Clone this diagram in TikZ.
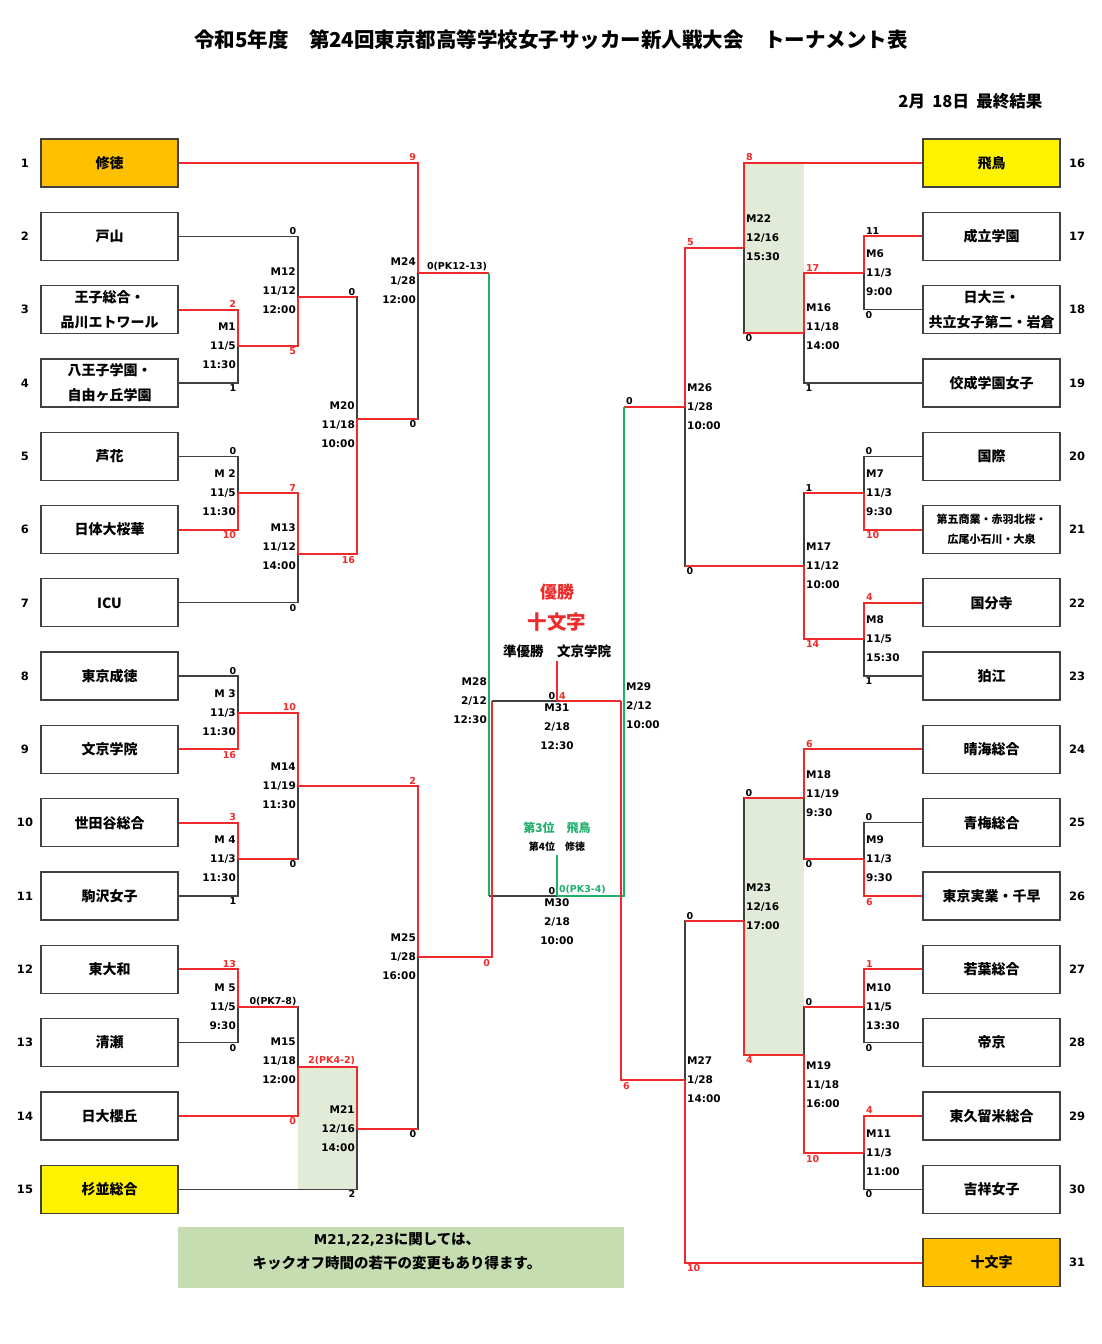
\documentclass[tikz,border=0pt]{standalone}
\usepackage{fontspec}
\setmainfont{Noto Sans CJK JP}
\newfontfamily\lat{DejaVu Sans}
\definecolor{lnred}{HTML}{EE2A2A}
\definecolor{lngrn}{HTML}{1FAE6C}
\definecolor{lngray}{HTML}{404040}
\definecolor{gold}{HTML}{FFC000}
\definecolor{sagebg}{HTML}{E2EAD8}
\definecolor{notebg}{HTML}{C6DDB2}
\newcommand\smallname{\fontsize{11}{19}\selectfont}
\tikzset{
  team/.style={draw=lngray,line width=1.3pt,minimum width=137pt,minimum height=48pt,align=center,inner sep=1pt,font=\bfseries\fontsize{14}{24.5}\selectfont},
  seed/.style={font=\lat\bfseries\fontsize{11.5}{12}\selectfont},
  mlab/.style={font=\lat\bfseries\fontsize{10.5}{19}\selectfont,inner sep=2pt},
  mlabl/.style={mlab,left,align=right},
  mlabr/.style={mlab,right,align=left},
  scr/.style={font=\lat\bfseries\fontsize{9.5}{10}\selectfont,inner sep=1pt,pos=.5},
  rs/.style={scr,text=lnred},
  win/.style={draw=lnred,line width=2pt},
  lose/.style={draw=lngray,line width=1.3pt},
  grn/.style={draw=lngrn,line width=2pt},
}
\begin{document}
\begin{tikzpicture}[x=1pt,y=-1pt]
\useasboundingbox (0,0) rectangle (1102,1344);
\node[font=\bfseries\fontsize{20.5}{24}\selectfont] (title) at (551,40) {令和5年度　第24回東京都高等学校女子サッカー新人戦大会　トーナメント表};
\node[font=\bfseries\fontsize{16.5}{20}\selectfont,anchor=east] (date) at (1046,101) {2月\hspace{.45em}18日\hspace{.45em}最終結果};

% teams
\foreach \i/\nm/\fc in {1/修徳/gold,2/戸山/white,3/{王子総合・\\品川エトワール}/white,4/{八王子学園・\\自由ヶ丘学園}/white,5/芦花/white,6/日体大桜華/white,7/ICU/white,8/東京成徳/white,9/文京学院/white,10/世田谷総合/white,11/駒沢女子/white,12/東大和/white,13/清瀬/white,14/日大櫻丘/white,15/杉並総合/yellow}{
  \node[team,fill=\fc] (t\i) at (109.5,{163+73.3*(\i-1)}) {\nm};
  \node[seed] (s\i) at (25,{163+73.3*(\i-1)}) {\i};}
\foreach \i/\nm/\fc in {16/飛鳥/yellow,17/成立学園/white,18/{日大三・\\共立女子第二・岩倉}/white,19/佼成学園女子/white,20/国際/white,21/{\smallname 第五商業・赤羽北桜・\\[-5pt]\smallname 広尾小石川・大泉}/white,22/国分寺/white,23/狛江/white,24/晴海総合/white,25/青梅総合/white,26/東京実業・千早/white,27/若葉総合/white,28/帝京/white,29/東久留米総合/white,30/吉祥女子/white,31/十文字/gold}{
  \node[team,fill=\fc] (t\i) at (991.5,{163+73.3*(\i-16)}) {\nm};
  \node[seed] (s\i) at (1077,{163+73.3*(\i-16)}) {\i};}

\coordinate (m1) at (238,346); \coordinate (m2) at (238,493); \coordinate (m3) at (238,713); \coordinate (m4) at (238,859); \coordinate (m5) at (238,1007);
\coordinate (m12) at (298,297); \coordinate (m13) at (298,554); \coordinate (m14) at (298,786); \coordinate (m15) at (298,1067);
\coordinate (m20) at (357,419); \coordinate (m21) at (357,1129); \coordinate (m24) at (418,273); \coordinate (m25) at (418,957);
\coordinate (m28g) at (489,896); \coordinate (m28r) at (492,701); \coordinate (f31) at (557,701); \coordinate (f30) at (557,896);
\coordinate (m29g) at (624,896); \coordinate (m29r) at (621,701); \coordinate (m26) at (685,407); \coordinate (m27) at (685,1080);
\coordinate (m22) at (744,248); \coordinate (m23) at (744,921);
\coordinate (m16) at (804,333); \coordinate (m17) at (804,566); \coordinate (m18) at (804,798); \coordinate (m19) at (804,1055);
\coordinate (m6) at (864,273); \coordinate (m7) at (864,493); \coordinate (m8) at (864,639); \coordinate (m9) at (864,859); \coordinate (m10) at (864,1007); \coordinate (m11) at (864,1153);

\fill[sagebg] (m15) rectangle (t15.east -| m21);
\fill[sagebg] (t16.west -| m22) rectangle (m16);
\fill[sagebg] (m23 |- m18) rectangle (m19);

% left side
\draw[lose] (t2.east) -| node[scr,above left]{0} (m12);
\draw[lose] (t4.east) -| node[scr,below left]{1} (m1);
\draw[lose] (m12) -| node[scr,above left]{0} (m20); \draw[win] (m12) -- (m12 -| m20);
\draw[lose] (t5.east) -| node[scr,above left]{0} (m2);
\draw[lose] (t7.east) -| node[scr,below left]{0} (m13);
\draw[lose] (m20) -| node[scr,below left]{0} (m24); \draw[win] (m20) -- (m20 -| m24);
\draw[lose] (t8.east) -| node[scr,above left]{0} (m3);
\draw[lose] (t11.east) -| node[scr,below left]{1} (m4);
\draw[lose] (m4) -| node[scr,below left]{0} (m14); \draw[win] (m4) -- (m4 -| m14);
\draw[lose] (t13.east) -| node[scr,below left]{0} (m5);
\draw[lose] (m5) -| node[scr,above left]{0(PK7-8)} (m15); \draw[win] (m5) -- (m5 -| m15);
\draw[lose] (t15.east) -| node[scr,below left]{2} (m21);
\draw[lose] (m21) -| node[scr,below left]{0} (m25); \draw[win] (m21) -- (m21 -| m25);
\draw[win] (t1.east) -| node[rs,above left]{9} (m24);
\draw[win] (t3.east) -| node[rs,above left]{2} (m1);
\draw[win] (m1) -| node[rs,below left]{5} (m12);
\draw[win] (t6.east) -| node[rs,below left]{10} (m2);
\draw[win] (m2) -| node[rs,above left]{7} (m13);
\draw[win] (m13) -| node[rs,below left]{16} (m20);
\draw[win] (t9.east) -| node[rs,below left]{16} (m3);
\draw[win] (t10.east) -| node[rs,above left]{3} (m4);
\draw[win] (m3) -| node[rs,above left]{10} (m14);
\draw[win] (m14) -| node[rs,above left]{2} (m25);
\draw[win] (t12.east) -| node[rs,above left]{13} (m5);
\draw[win] (t14.east) -| node[rs,below left]{0} (m15);
\draw[win] (m15) -| node[rs,above left]{2(PK4-2)} (m21);

% right side
\draw[lose] (t18.west) -| node[scr,below right]{0} (m6);
\draw[lose] (t19.west) -| node[scr,below right]{1} (m16);
\draw[lose] (m16) -| node[scr,below right]{0} (m22); \draw[win] (m16) -- (m16 -| m22);
\draw[lose] (t20.west) -| node[scr,above right]{0} (m7);
\draw[lose] (t23.west) -| node[scr,below right]{1} (m8);
\draw[lose] (m7) -| node[scr,above right]{1} (m17); \draw[win] (m7) -- (m7 -| m17);
\draw[lose] (m17) -| node[scr,below right]{0} (m26); \draw[win] (m17) -- (m17 -| m26);
\draw[lose] (t25.west) -| node[scr,above right]{0} (m9);
\draw[lose] (m9) -| node[scr,below right]{0} (m18); \draw[win] (m9) -- (m9 -| m18);
\draw[lose] (m18) -| node[scr,above right]{0} (m23); \draw[win] (m18) -- (m18 -| m23);
\draw[lose] (t28.west) -| node[scr,below right]{0} (m10);
\draw[lose] (t30.west) -| node[scr,below right]{0} (m11);
\draw[lose] (m10) -| node[scr,above right]{0} (m19); \draw[win] (m10) -- (m10 -| m19);
\draw[lose] (m23) -| node[scr,above right]{0} (m27); \draw[win] (m23) -- (m23 -| m27);
\draw[win] (t16.west) -| node[rs,above right]{8} (m22);
\draw[win] (t17.west) -| node[scr,above right]{11} (m6);
\draw[win] (m6) -| node[rs,above right]{17} (m16);
\draw[win] (m22) -| node[rs,above right]{5} (m26);
\draw[win] (t21.west) -| node[rs,below right]{10} (m7);
\draw[win] (t22.west) -| node[rs,above right]{4} (m8);
\draw[win] (m8) -| node[rs,below right]{14} (m17);
\draw[win] (t24.west) -| node[rs,above right]{6} (m18);
\draw[win] (t26.west) -| node[rs,below right]{6} (m9);
\draw[win] (t27.west) -| node[rs,above right]{1} (m10);
\draw[win] (t29.west) -| node[rs,above right]{4} (m11);
\draw[win] (m11) -| node[rs,below right]{10} (m19);
\draw[win] (m19) -| node[rs,below right]{4} (m23);
\draw[win] (t31.west) -| node[rs,below right]{10} (m27);

% semifinals and finals
\node[text=lnred,font=\bfseries\fontsize{17}{20}\selectfont] (yusho) at (557,592) {優勝};
\node[text=lnred,font=\bfseries\fontsize{19.5}{22}\selectfont] (champ) at (557,622) {十文字};
\node[font=\bfseries\fontsize{13.5}{16}\selectfont] (runner) at (557,651) {準優勝\hspace{1em}文京学院};
\node[text=lngrn,font=\bfseries\fontsize{12}{14}\selectfont] (third) at (557,828) {第3位\hspace{1em}飛鳥};
\node[font=\bfseries\fontsize{10}{12}\selectfont] (fourth) at (557,847) {第4位\hspace{1em}修徳};
\draw[win] (m24) -- node[scr,pos=1,above left]{0(PK12-13)} (m24 -| m28g);
\draw[grn] (m24 -| m28g) -- (m28g);
\draw[lose] (m28g) -- node[scr,pos=1,above left]{0} (f30);
\draw[win] (m26) -- node[scr,pos=1,above right]{0} (m26 -| m29g);
\draw[grn] (m26 -| m29g) -- (m29g) -- node[scr,pos=1,above right,text=lngrn]{0(PK3-4)} (f30);
\draw[grn] (f30) -- (fourth.south);
\draw[win] (m25) -| node[rs,below left]{0} (m28r);
\draw[win] (m27) -| node[rs,below right]{6} (m29r);
\draw[lose] (m28r) -- node[scr,pos=1,above left]{0} (f31);
\draw[win] (m29r) -- node[rs,pos=1,above right]{4} (f31);
\draw[win] (f31) -- (runner.south);

% match labels
\node[mlabl,yshift=6pt] at (m12) {M12\\11/12\\12:00};
\node[mlabl] at (m1) {M1\\11/5\\11:30};
\node[mlabl,yshift=-6pt] at (m20) {M20\\11/18\\10:00};
\node[mlabl,yshift=-8pt] at (m24) {M24\\1/28\\12:00};
\node[mlabl] at (m2) {M 2\\11/5\\11:30};
\node[mlabl,yshift=7pt] at (m13) {M13\\11/12\\14:00};
\node[mlabl] at (m3) {M 3\\11/3\\11:30};
\node[mlabl] at (m4) {M 4\\11/3\\11:30};
\node[mlabl] at (m14) {M14\\11/19\\11:30};
\node[mlabl] at (m5) {M 5\\11/5\\9:30};
\node[mlabl,yshift=6pt] at (m15) {M15\\11/18\\12:00};
\node[mlabl] at (m21) {M21\\12/16\\14:00};
\node[mlabl] at (m25) {M25\\1/28\\16:00};
\node[mlabl] at (m28g |- f31) {M28\\2/12\\12:30};
\node[mlab,below,align=center] at (f31) {M31\\2/18\\12:30};
\node[mlab,below,align=center] at (f30) {M30\\2/18\\10:00};
\node[mlabr,yshift=-5pt] at (m29g |- f31) {M29\\2/12\\10:00};
\node[mlabr,yshift=10pt] at (m22) {M22\\12/16\\15:30};
\node[mlabr] at (m6) {M6\\11/3\\9:00};
\node[mlabr,yshift=6pt] at (m16) {M16\\11/18\\14:00};
\node[mlabr] at (m26) {M26\\1/28\\10:00};
\node[mlabr] at (m7) {M7\\11/3\\9:30};
\node[mlabr] at (m17) {M17\\11/12\\10:00};
\node[mlabr] at (m8) {M8\\11/5\\15:30};
\node[mlabr,yshift=4pt] at (m18) {M18\\11/19\\9:30};
\node[mlabr] at (m9) {M9\\11/3\\9:30};
\node[mlabr,yshift=14pt] at (m23) {M23\\12/16\\17:00};
\node[mlabr] at (m10) {M10\\11/5\\13:30};
\node[mlabr,yshift=-30pt] at (m19) {M19\\11/18\\16:00};
\node[mlabr] at (m27) {M27\\1/28\\14:00};
\node[mlabr] at (m11) {M11\\11/3\\11:00};

% note
\node[fill=notebg,minimum width=446pt,minimum height=61pt] (note) at (400.5,1257.5) {};
\node[align=center,font=\bfseries\fontsize{14.5}{24}\selectfont] (notetxt) at (397,1251) {{\lat\fontsize{13.5}{24}\selectfont M21,22,23}に関しては、\\キックオフ時間の若干の変更もあり得ます。};
\end{tikzpicture}
\end{document}
